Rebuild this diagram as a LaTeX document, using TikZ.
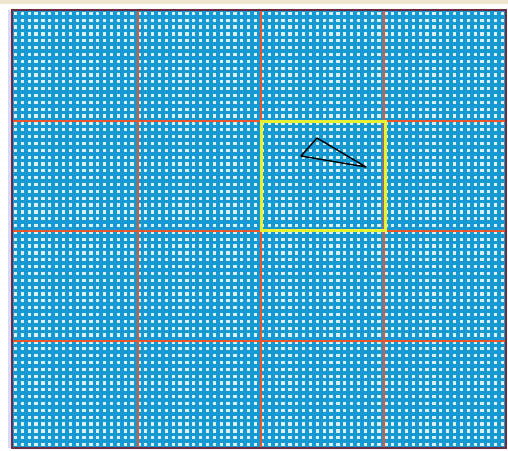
\documentclass[tikz,border=0pt]{standalone}
\usepackage{xcolor}
\usepackage{tikz}

\definecolor{meshblue}{RGB}{22,152,210}
\definecolor{dotwhite}{RGB}{214,240,252}
\definecolor{cellred}{RGB}{236,84,44}
\definecolor{frameline}{RGB}{110,44,60}
\definecolor{selyellow}{RGB}{232,240,50}
\definecolor{topstrip}{RGB}{236,230,206}

\begin{document}
\begin{tikzpicture}[
x=1pt, y=-1pt,
mesh/.style={meshblue, line width=3.6pt},
cellline/.style={cellred, line width=1.8pt},
frame/.style={frameline, line width=2pt},
select/.style={selyellow, line width=3pt},
tri/.style={black, line width=1.4pt, line join=round}
]

\useasboundingbox[fill=white] (0,0) rectangle (508,450);
\fill[topstrip] (0,0) rectangle (508,4);
\fill[blue!15] (8,10) rectangle (11,448);

% dotted background mesh
\fill[dotwhite] (12,10) rectangle (506,448);
\begin{scope}
\clip (12,10) rectangle (506,448);
\foreach \i in {0,...,72}
    \draw[mesh] ({12+\i*6.8611},10) -- ({12+\i*6.8611},448);
\foreach \j in {0,...,64}
    \draw[mesh] (12,{10+\j*6.8438}) -- (506,{10+\j*6.8438});
\end{scope}

% coarse cells
\foreach \x in {138,261,384}
    \draw[cellline] (\x,10) -- (\x,448);
\foreach \y in {121,231,341}
    \draw[cellline] (12,\y) -- (506,\y);

\draw[frame] (12,10) rectangle (506,448);

% selected cell
\draw[select] (261,121) rectangle (385,230);

% triangle
\coordinate (ta) at (317,138);
\coordinate (tb) at (301,156);
\coordinate (tc) at (366,167);
\draw[tri] (ta) -- (tb) -- (tc) -- cycle;

\end{tikzpicture}
\end{document}
